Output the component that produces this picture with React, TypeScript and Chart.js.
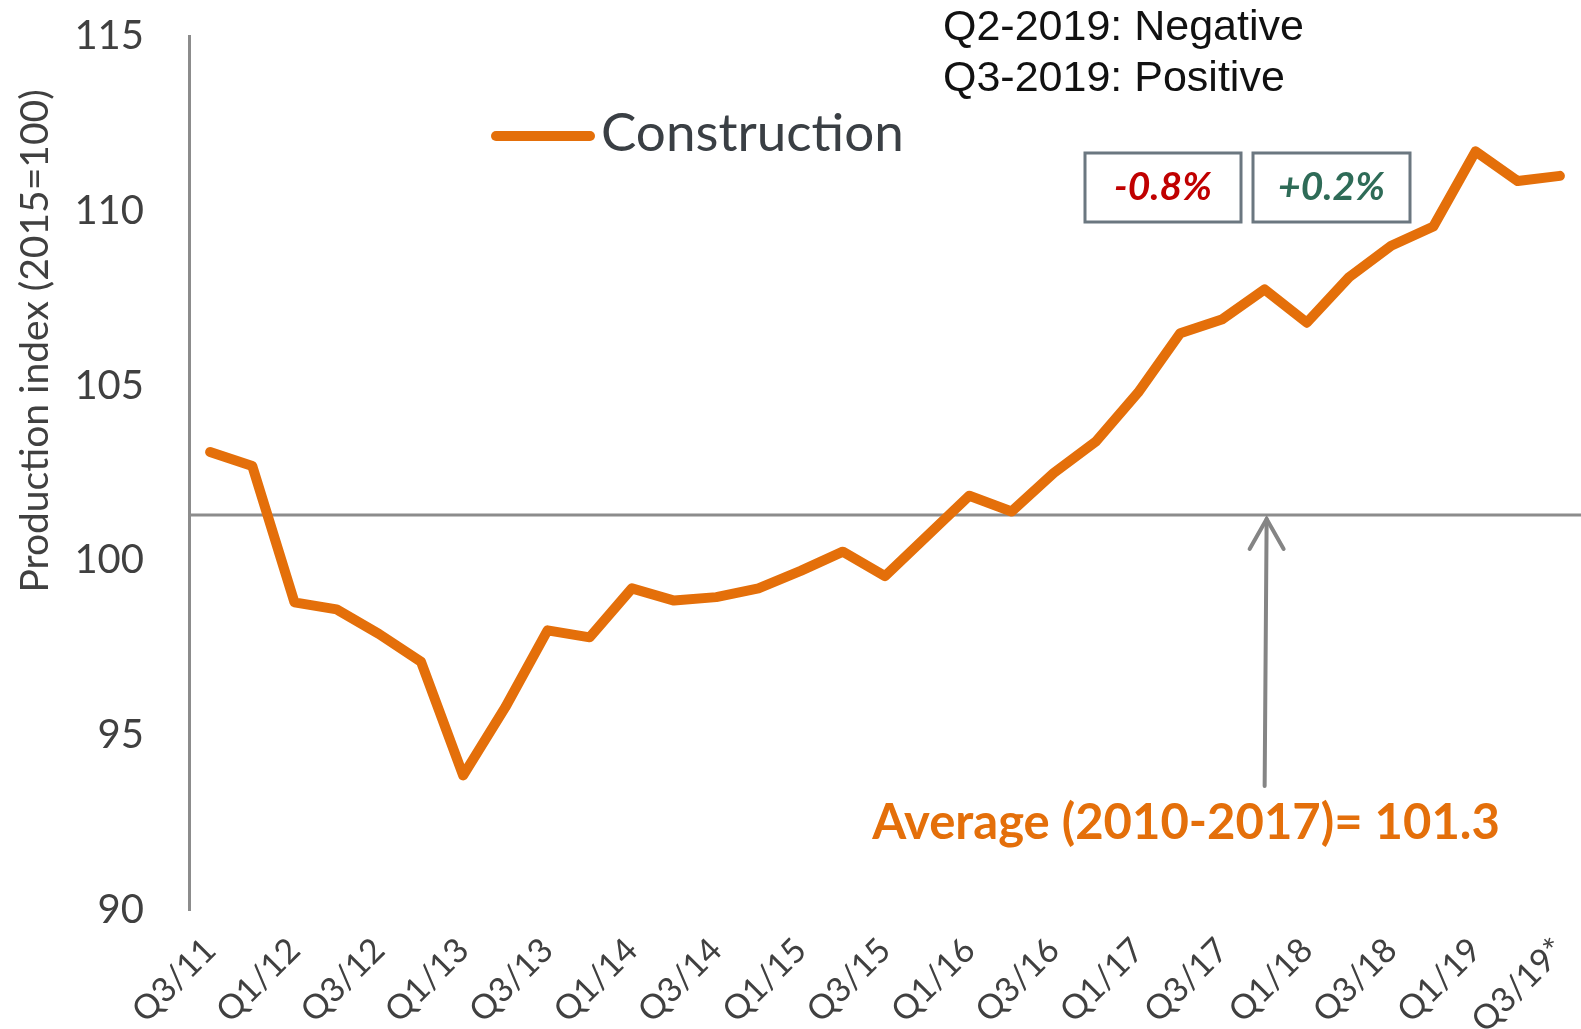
import React, { useEffect, useRef } from 'react';
import { Chart, registerables } from 'chart.js';

Chart.register(...registerables);

const quarters = [
  'Q3/11', 'Q4/11', 'Q1/12', 'Q2/12', 'Q3/12', 'Q4/12', 'Q1/13', 'Q2/13', 'Q3/13', 'Q4/13',
  'Q1/14', 'Q2/14', 'Q3/14', 'Q4/14', 'Q1/15', 'Q2/15', 'Q3/15', 'Q4/15', 'Q1/16', 'Q2/16',
  'Q3/16', 'Q4/16', 'Q1/17', 'Q2/17', 'Q3/17', 'Q4/17', 'Q1/18', 'Q2/18', 'Q3/18', 'Q4/18',
  'Q1/19', 'Q2/19', 'Q3/19*',
];

const construction = [
  103.1, 102.7, 98.8, 98.6, 97.9, 97.1, 93.85, 95.8, 98.0, 97.8,
  99.2, 98.85, 98.95, 99.2, 99.7, 100.25, 99.55, 100.7, 101.85, 101.4,
  102.5, 103.4, 104.8, 106.5, 106.9, 107.75, 106.8, 108.1, 109.0, 109.55,
  111.7, 110.85, 111.0,
];

const seriesName = 'Construction';
const averageValue = 101.3;
const averageLabel = 'Average (2010-2017)= 101.3';
const arrowQuarterIndex = 25;
const yTicks = [90, 95, 100, 105, 110, 115];
const yTitle = 'Production index (2015=100)';
const changeLabels = ['-0.8%', '+0.2%'];
const changeColors = ['#C00000', '#2E6B57'];
const noteLines = ['Q2-2019: Negative', 'Q3-2019: Positive'];

const ORANGE = '#E46F0A';
const GREY = '#8C8C8C';
const TEXT = '#404040';
const FONT = 'Lato, "Open Sans", sans-serif';

const decorPlugin = {
  id: 'decor',
  beforeDatasetsDraw(chart: any) {
    const { ctx, chartArea, scales } = chart;
    const y = scales.y.getPixelForValue(averageValue);
    ctx.save();
    ctx.strokeStyle = GREY;
    ctx.lineWidth = 3;
    ctx.beginPath();
    ctx.moveTo(chartArea.left, y);
    ctx.lineTo(chartArea.right, y);
    ctx.stroke();
    ctx.restore();
  },
  afterDraw(chart: any) {
    const { ctx, scales } = chart;
    const yAvg = scales.y.getPixelForValue(averageValue);
    const xArrow = scales.x.getPixelForValue(arrowQuarterIndex) + 2;
    ctx.save();

    // arrow
    ctx.strokeStyle = '#858585';
    ctx.lineWidth = 4;
    ctx.lineCap = 'round';
    ctx.beginPath();
    ctx.moveTo(xArrow - 2, 786);
    ctx.lineTo(xArrow, yAvg + 4);
    ctx.stroke();
    ctx.beginPath();
    ctx.moveTo(xArrow - 17, yAvg + 34);
    ctx.lineTo(xArrow, yAvg + 4);
    ctx.lineTo(xArrow + 17, yAvg + 34);
    ctx.stroke();

    // average label
    ctx.fillStyle = ORANGE;
    ctx.font = `bold 49px ${FONT}`;
    ctx.textAlign = 'center';
    ctx.textBaseline = 'middle';
    ctx.fillText(averageLabel, 1186, 823);

    // change boxes
    const boxes = [
      { x: 1085, y: 153, w: 156, h: 69 },
      { x: 1253, y: 153, w: 157, h: 69 },
    ];
    boxes.forEach((b, i) => {
      ctx.fillStyle = '#ffffff';
      ctx.fillRect(b.x, b.y, b.w, b.h);
      ctx.strokeStyle = '#6B7780';
      ctx.lineWidth = 3;
      ctx.strokeRect(b.x, b.y, b.w, b.h);
      ctx.fillStyle = changeColors[i];
      ctx.font = `italic bold 39px ${FONT}`;
      ctx.textAlign = 'center';
      ctx.textBaseline = 'middle';
      ctx.fillText(changeLabels[i], b.x + b.w / 2, b.y + b.h / 2);
    });

    // notes
    ctx.fillStyle = '#111111';
    ctx.font = '43px "Liberation Sans", Arial, sans-serif';
    ctx.textAlign = 'left';
    ctx.textBaseline = 'alphabetic';
    noteLines.forEach((t, i) => ctx.fillText(t, 943, 40 + i * 51));

    // legend
    ctx.strokeStyle = ORANGE;
    ctx.lineWidth = 10;
    ctx.lineCap = 'round';
    ctx.beginPath();
    ctx.moveTo(496, 136);
    ctx.lineTo(590, 136);
    ctx.stroke();
    ctx.fillStyle = '#3A3F44';
    ctx.font = `53px ${FONT}`;
    ctx.textAlign = 'left';
    ctx.textBaseline = 'middle';
    ctx.fillText(seriesName, 601, 134);

    // y title
    ctx.translate(35, 341);
    ctx.rotate(-Math.PI / 2);
    ctx.fillStyle = TEXT;
    ctx.font = `39px ${FONT}`;
    ctx.textAlign = 'center';
    ctx.textBaseline = 'middle';
    ctx.fillText(yTitle, 0, 0);
    ctx.restore();
  },
};

export default function App() {
  const canvasRef = useRef<HTMLCanvasElement | null>(null);

  useEffect(() => {
    const canvas = canvasRef.current;
    if (!canvas) return;
    const chart = new Chart(canvas, {
      type: 'line',
      data: {
        labels: quarters,
        datasets: [
          {
            label: seriesName,
            data: construction,
            borderColor: ORANGE,
            backgroundColor: ORANGE,
            borderWidth: 10,
            pointRadius: 0,
            tension: 0,
            borderCapStyle: 'round',
            borderJoinStyle: 'round',
            fill: false,
          },
        ],
      },
      options: {
        responsive: false,
        animation: false,
        layout: { padding: { top: 36, right: 0, left: 0, bottom: 0 } },
        plugins: {
          legend: { display: false },
          tooltip: { enabled: false },
          title: { display: false },
        },
        scales: {
          x: {
            type: 'category',
            offset: true,
            grid: { display: false },
            border: { display: false },
            ticks: {
              autoSkip: false,
              minRotation: 45,
              maxRotation: 45,
              padding: 12,
              color: TEXT,
              font: { family: FONT, size: 34 },
              callback: (_v: any, i: number) => (i % 2 === 0 ? quarters[i] : ''),
            },
            afterFit: (s: any) => {
              s.height = 119;
              s.paddingLeft = 0;
              s.paddingRight = 0;
            },
          },
          y: {
            min: 90,
            max: 115,
            grid: { display: false },
            border: { display: true, color: GREY, width: 3 },
            ticks: {
              padding: 37,
              color: TEXT,
              font: { family: FONT, size: 40 },
            },
            afterBuildTicks: (s: any) => {
              s.ticks = yTicks.map((v) => ({ value: v }));
            },
            afterFit: (s: any) => {
              s.width = 189;
              s.paddingTop = 0;
              s.paddingBottom = 0;
            },
          },
        },
      },
      plugins: [decorPlugin],
    } as any);
    return () => chart.destroy();
  }, []);

  return (
    <div style={{ position: 'absolute', left: 0, top: 0, width: 1581, height: 1029, background: '#fff' }}>
      <canvas ref={canvasRef} width={1581} height={1029} style={{ display: 'block' }} />
    </div>
  );
}
